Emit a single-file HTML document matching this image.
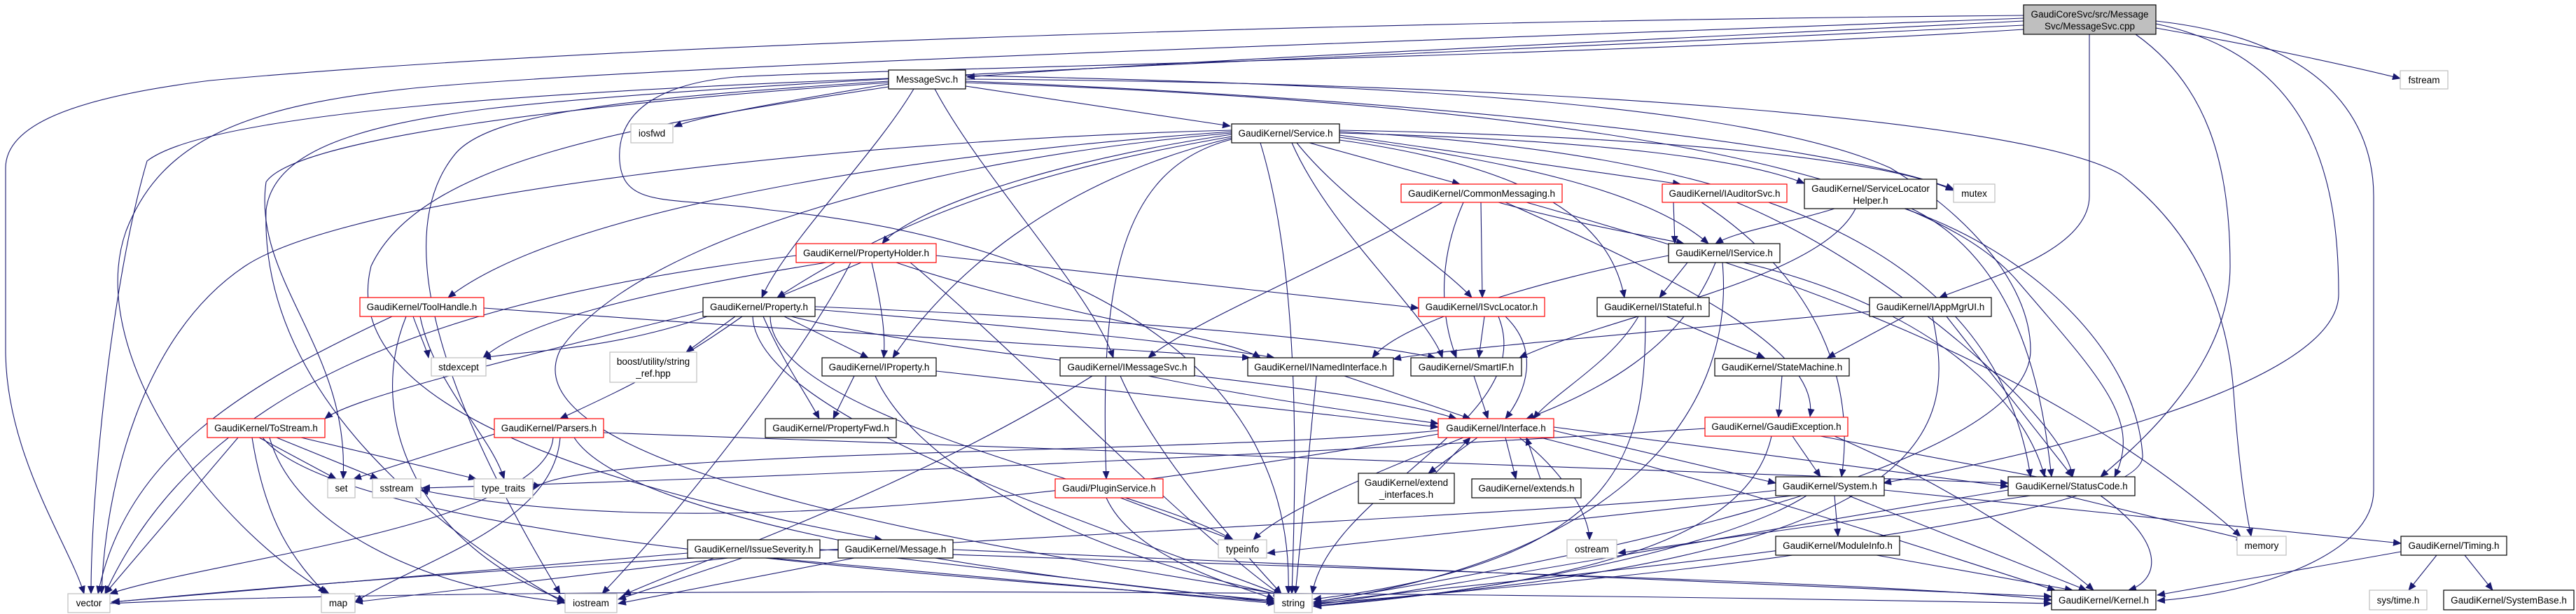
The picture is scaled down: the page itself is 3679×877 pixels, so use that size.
<!DOCTYPE html>
<html><head><meta charset="utf-8"><style>
html,body{margin:0;padding:0;background:#fff;width:3679px;height:877px;overflow:hidden}
svg{display:block}
text{font-family:"Liberation Sans",sans-serif;font-size:13.5px;fill:#000;text-anchor:middle}
.e{fill:none;stroke:#191970;stroke-width:1.1}
.n{fill:#fff;stroke:#000;stroke-width:1.2}
.r{fill:#fff;stroke:#f00;stroke-width:1.2}
.g{fill:#fff;stroke:#bfbfbf;stroke-width:1.2}
</style></head><body>
<svg width="3679" height="877" viewBox="0 0 3679 877" xmlns="http://www.w3.org/2000/svg">
<defs><marker id="a" markerWidth="12" markerHeight="10" refX="11" refY="5" orient="auto" markerUnits="userSpaceOnUse"><path d="M0,0 L12,5 L0,10 z" fill="#191970"/></marker></defs>
<g class="e" marker-end="url(#a)">
<!-- cpp edges -->
<path d="M2890,30 C2300,60 1700,85 1381,110"/>
<path d="M3079,40 C3250,70 3380,100 3428,112"/>
<path d="M2984,49 L2984,280 C2984,360 2830,400 2770,425"/>
<path d="M3050,49 C3150,120 3185,230 3185,380 C3185,520 3060,630 3000,681"/>
<path d="M3079,34 C3300,80 3340,250 3340,420 C3340,560 2850,660 2690,690"/>
<path d="M3079,30 C3350,60 3390,200 3390,280 L3390,700 C3390,800 3200,850 3081,858"/>
<path d="M2890,22 C2000,30 900,60 300,115 C100,140 8,180 8,240 L8,500 C8,650 100,780 120,848"/>
<path d="M2890,26 C2000,60 1000,90 600,125 C350,150 230,200 180,330 C120,500 300,750 470,848"/>
<path d="M2890,36 C2000,80 1100,110 700,155 C500,180 390,220 380,300 C370,600 700,800 807,862"/>
<path d="M2890,42 C2300,80 1200,100 1050,110 C940,120 880,160 885,230 C890,300 960,280 1100,300 C1500,340 1850,500 1840,848"/>
<!-- MessageSvc.h edges -->
<path d="M1379,123 L1757,180"/>
<path d="M1269,120 C1150,140 1000,165 963,181"/>
<path d="M1379,116 C2000,140 2600,200 2790,270"/>
<path d="M1379,113 C2200,118 2900,170 3030,250 C3120,320 3180,420 3190,560 C3200,700 3212,750 3215,766"/>
<path d="M1379,118 C2300,150 2750,250 2880,400 C3000,540 3060,600 3020,681"/>
<path d="M1305,127 C1250,220 1120,350 1088,425"/>
<path d="M1335,127 C1400,250 1560,420 1590,511"/>
<path d="M1269,112 C800,130 300,160 210,230 C160,400 130,700 130,848"/>
<path d="M1269,116 C900,140 700,160 650,220 C560,330 620,550 800,848"/>
<path d="M1269,118 C800,150 420,200 380,260 C360,400 500,500 490,684"/>
<path d="M1269,124 C900,180 600,230 530,380 C500,500 600,650 1260,771"/>
<path d="M1379,108 C2000,120 2500,150 2700,240 C2800,300 2900,400 2900,500 C2900,700 2000,840 1876,860"/>
<!-- Service.h edges -->
<path d="M1870,204 L2085,263"/>
<path d="M1913,193 L2400,263"/>
<path d="M1913,190 C2300,200 2500,230 2577,262"/>
<path d="M1913,186 C2400,195 2700,230 2790,272"/>
<path d="M1913,196 C2150,230 2350,270 2440,348"/>
<path d="M1852,204 C1920,290 2050,370 2102,425"/>
<path d="M1845,204 C1900,330 2040,450 2060,511"/>
<path d="M1913,200 C2200,240 2300,320 2320,425"/>
<path d="M1759,192 C1500,230 1300,300 1260,348"/>
<path d="M1759,195 C1500,240 1300,300 1110,425"/>
<path d="M1759,197 C1500,260 1350,400 1275,511"/>
<path d="M1759,188 C1300,220 800,300 640,425"/>
<path d="M1759,199 C1600,240 1570,400 1580,684"/>
<path d="M1913,188 C2500,220 2850,350 2900,681"/>
<path d="M1759,186 C1200,200 500,280 350,380 C200,480 150,700 145,848"/>
<path d="M1759,190 C1300,230 900,350 800,500 C700,700 1700,820 1830,850"/>
<path d="M1800,204 C1860,400 1850,700 1845,848"/>
<!-- CommonMessaging -->
<path d="M2060,289 C1900,380 1700,460 1640,511"/>
<path d="M2115,289 L2117,425"/>
<path d="M2090,289 C2050,380 2060,460 2080,511"/>
<path d="M2140,289 C2250,320 2370,340 2405,348"/>
<path d="M2150,289 C2400,400 2600,500 2585,595"/>
<path d="M2180,289 C2500,380 2900,500 3200,766"/>
<!-- IAuditorSvc -->
<path d="M2390,289 L2392,348"/>
<path d="M2430,289 C2600,400 2650,550 2630,681"/>
<path d="M2480,289 C2700,380 2950,600 2960,681"/>
<!-- ServiceLocatorHelper -->
<path d="M2620,298 C2550,320 2480,330 2450,348"/>
<path d="M2650,298 C2600,400 2300,450 2170,511"/>
<path d="M2730,298 C2900,380 2920,600 2930,681"/>
<path d="M2720,298 C2900,360 3050,500 3060,650 C3070,760 2000,840 1876,862"/>
<!-- PropertyHolder -->
<path d="M1230,375 L1110,425"/>
<path d="M1245,375 C1260,440 1265,480 1262,511"/>
<path d="M1337,365 L2026,440"/>
<path d="M1280,375 C1500,450 1750,480 1800,511"/>
<path d="M1180,375 C900,420 750,460 690,511"/>
<path d="M1137,365 C700,420 300,520 150,848"/>
<path d="M1215,375 C1150,500 1000,700 860,848"/>
<path d="M1300,375 C1450,500 1700,760 1830,850"/>
<!-- IService -->
<path d="M2410,375 L2370,425"/>
<path d="M2383,365 C2200,400 2000,460 1960,511"/>
<path d="M2450,375 C2400,500 2280,560 2180,598"/>
<path d="M2490,375 C2800,450 2900,600 2920,681"/>
<path d="M2460,375 C2480,600 2300,800 1876,860"/>
<!-- Property -->
<path d="M1010,452 C870,500 760,500 690,511"/>
<path d="M1050,452 L980,503"/>
<path d="M1120,452 L1240,511"/>
<path d="M1090,452 C1120,520 1150,560 1170,598"/>
<path d="M1060,452 C950,530 880,560 800,598"/>
<path d="M1004,445 C700,520 500,570 464,598"/>
<path d="M1164,442 C1500,470 1700,490 1820,511"/>
<path d="M1164,438 C1700,460 1950,490 2050,511"/>
<path d="M1130,452 C1400,520 1900,540 2080,598"/>
<path d="M1075,452 C1080,600 1600,760 1830,850"/>
<path d="M1100,452 C1100,600 1650,700 1760,771"/>
<!-- ToolHandle -->
<path d="M590,452 C600,480 610,500 612,511"/>
<path d="M600,452 C620,550 700,620 720,684"/>
<path d="M560,452 C350,550 180,650 140,848"/>
<path d="M691,440 C1100,470 1600,500 1785,511"/>
<path d="M580,452 C520,600 600,780 807,858"/>
<!-- ISvcLocator -->
<path d="M2120,452 L2112,511"/>
<path d="M2150,452 C2200,500 2180,560 2150,598"/>
<path d="M2140,452 C2200,600 1900,700 1874,848"/>
<!-- IStateful -->
<path d="M2340,452 C2300,520 2220,560 2190,598"/>
<path d="M2380,452 L2520,511"/>
<path d="M2350,452 C2350,650 2320,800 1876,856"/>
<!-- IAppMgrUI -->
<path d="M2670,445 C2300,480 2050,500 1990,513"/>
<path d="M2720,452 L2610,511"/>
<path d="M2780,452 L2960,681"/>
<path d="M2760,452 C2790,600 2800,800 1876,862"/>
<!-- StateMachine -->
<path d="M2545,537 L2540,596"/>
<!-- IProperty -->
<path d="M1220,537 L1190,598"/>
<path d="M1337,530 L2054,610"/>
<path d="M1250,537 C1300,650 1500,780 1830,850"/>
<!-- IMessageSvc -->
<path d="M1640,537 C1800,570 1950,590 2054,605"/>
<path d="M1600,537 C1650,650 1750,760 1830,848"/>
<path d="M1560,537 C1300,700 1000,800 890,850"/>
<!-- INamed, SmartIF -->
<path d="M1920,537 L2100,598"/>
<path d="M1880,537 L1850,848"/>
<path d="M2105,537 L2125,598"/>
<!-- ToStream -->
<path d="M370,625 L480,684"/>
<path d="M395,625 L540,684"/>
<path d="M430,625 L680,684"/>
<path d="M340,625 L150,848"/>
<path d="M360,625 C380,750 420,800 465,848"/>
<path d="M385,625 C420,750 600,840 807,860"/>
<path d="M375,625 C500,780 1500,830 1820,860"/>
<!-- Parsers -->
<path d="M706,620 L505,684"/>
<path d="M790,625 C780,750 300,800 157,848"/>
<path d="M800,625 C790,750 600,800 507,860"/>
<path d="M820,625 C900,750 1500,830 1820,858"/>
<path d="M862,618 C1800,650 2500,680 2868,690"/>
<!-- Interface -->
<path d="M2110,625 L2040,676"/>
<path d="M2150,625 L2165,684"/>
<path d="M2054,615 C1700,650 800,640 761,700"/>
<path d="M2090,625 C1900,700 1820,740 1790,771"/>
<path d="M2170,625 C2240,680 2270,740 2270,771"/>
<path d="M2219,615 L2536,690"/>
<path d="M2219,610 L2868,695"/>
<path d="M2200,625 C2500,700 2800,800 2935,843"/>
<path d="M2054,620 C1600,700 1000,780 601,700"/>
<!-- extend_if, extends back -->
<path d="M2050,676 L2100,625"/>
<path d="M2200,684 L2180,625"/>
<!-- GaudiException -->
<path d="M2560,623 L2600,681"/>
<path d="M2600,623 L2930,685"/>
<path d="M2620,623 C2800,700 2940,800 2990,843"/>
<path d="M2530,623 C2500,760 2300,830 1876,866"/>
<path d="M2435,612 C2000,640 1200,680 603,697"/>
<!-- System -->
<path d="M2620,708 L2625,766"/>
<path d="M2640,708 L2980,843"/>
<path d="M2691,700 L3429,776"/>
<path d="M2560,708 L1810,790"/>
<path d="M2540,700 C2200,740 1000,780 160,860"/>
<path d="M2580,708 C2450,790 2100,850 1876,866"/>
<!-- StatusCode -->
<path d="M2950,708 L3205,770"/>
<path d="M2900,708 L2311,790"/>
<path d="M3000,708 C3100,780 3080,830 3040,843"/>
<path d="M2868,700 C2500,760 2000,850 1876,864"/>
<!-- ModuleInfo -->
<path d="M2680,793 L2960,843"/>
<path d="M2560,793 C2300,830 2000,850 1876,866"/>
<!-- Timing -->
<path d="M3480,793 L3440,843"/>
<path d="M3520,793 L3560,843"/>
<path d="M3429,788 L3081,850"/>
<!-- IssueSeverity -->
<path d="M982,790 C600,820 300,850 159,860"/>
<path d="M1040,797 L507,860"/>
<path d="M1060,797 L883,856"/>
<path d="M1100,797 L1822,862"/>
<path d="M1171,785 C1800,810 2700,830 2930,857"/>
<!-- Message -->
<path d="M1220,797 L883,862"/>
<path d="M1280,797 L1820,860"/>
<path d="M1361,785 L2930,852"/>
<!-- PluginService -->
<path d="M1600,711 L1760,771"/>
<path d="M1580,711 C1620,800 1780,840 1820,856"/>
<!-- misc -->
<path d="M157,862 C600,840 1800,840 2930,862"/>
</g>
<!-- nodes -->
<rect class="n" x="2890" y="7" width="189" height="42" style="fill:#bfbfbf"/>
<text x="2984.5" y="25">GaudiCoreSvc/src/Message</text><text x="2984.5" y="42">Svc/MessageSvc.cpp</text>
<rect class="g" x="3428" y="101" width="68" height="26"/><text x="3462" y="119">fstream</text>
<rect class="n" x="1269" y="100" width="110" height="27"/><text x="1324" y="118">MessageSvc.h</text>
<rect class="g" x="901" y="177" width="60" height="27"/><text x="931" y="195">iosfwd</text>
<rect class="n" x="1759" y="177" width="154" height="27"/><text x="1836" y="195">GaudiKernel/Service.h</text>
<rect class="r" x="2001" y="263" width="230" height="26"/><text x="2116" y="281">GaudiKernel/CommonMessaging.h</text>
<rect class="r" x="2374" y="263" width="178" height="26"/><text x="2463" y="281">GaudiKernel/IAuditorSvc.h</text>
<rect class="n" x="2577" y="256" width="189" height="42"/><text x="2671.5" y="274">GaudiKernel/ServiceLocator</text><text x="2671.5" y="291">Helper.h</text>
<rect class="g" x="2790" y="263" width="59" height="26"/><text x="2819.5" y="281">mutex</text>
<rect class="r" x="1137" y="348" width="200" height="27"/><text x="1237" y="366">GaudiKernel/PropertyHolder.h</text>
<rect class="n" x="2383" y="348" width="159" height="27"/><text x="2462.5" y="366">GaudiKernel/IService.h</text>
<rect class="r" x="514" y="425" width="177" height="27"/><text x="602.5" y="443">GaudiKernel/ToolHandle.h</text>
<rect class="n" x="1004" y="425" width="160" height="27"/><text x="1084" y="443">GaudiKernel/Property.h</text>
<rect class="r" x="2026" y="425" width="180" height="27"/><text x="2116" y="443">GaudiKernel/ISvcLocator.h</text>
<rect class="n" x="2281" y="425" width="160" height="27"/><text x="2361" y="443">GaudiKernel/IStateful.h</text>
<rect class="n" x="2670" y="425" width="174" height="27"/><text x="2757" y="443">GaudiKernel/IAppMgrUI.h</text>
<rect class="g" x="616" y="511" width="78" height="26"/><text x="655" y="529">stdexcept</text>
<rect class="g" x="871" y="503" width="124" height="43"/><text x="933" y="521">boost/utility/string</text><text x="933" y="538">_ref.hpp</text>
<rect class="n" x="1174" y="511" width="163" height="26"/><text x="1255.5" y="529">GaudiKernel/IProperty.h</text>
<rect class="n" x="1514" y="511" width="192" height="26"/><text x="1610" y="529">GaudiKernel/IMessageSvc.h</text>
<rect class="n" x="1782" y="511" width="208" height="26"/><text x="1886" y="529">GaudiKernel/INamedInterface.h</text>
<rect class="n" x="2015" y="511" width="158" height="26"/><text x="2094" y="529">GaudiKernel/SmartIF.h</text>
<rect class="n" x="2449" y="512" width="192" height="25"/><text x="2545" y="529">GaudiKernel/StateMachine.h</text>
<rect class="r" x="296" y="598" width="168" height="27"/><text x="380" y="616">GaudiKernel/ToStream.h</text>
<rect class="r" x="706" y="598" width="156" height="27"/><text x="784" y="616">GaudiKernel/Parsers.h</text>
<rect class="n" x="1093" y="598" width="187" height="27"/><text x="1186.5" y="616">GaudiKernel/PropertyFwd.h</text>
<rect class="r" x="2054" y="598" width="165" height="27"/><text x="2136.5" y="616">GaudiKernel/Interface.h</text>
<rect class="r" x="2435" y="596" width="204" height="27"/><text x="2537" y="614">GaudiKernel/GaudiException.h</text>
<rect class="g" x="468" y="684" width="39" height="27"/><text x="487.5" y="702">set</text>
<rect class="g" x="532" y="684" width="69" height="27"/><text x="566.5" y="702">sstream</text>
<rect class="g" x="677" y="684" width="84" height="27"/><text x="719" y="702">type_traits</text>
<rect class="r" x="1507" y="684" width="154" height="27"/><text x="1584" y="702">Gaudi/PluginService.h</text>
<rect class="n" x="1940" y="676" width="137" height="43"/><text x="2008.5" y="694">GaudiKernel/extend</text><text x="2008.5" y="711">_interfaces.h</text>
<rect class="n" x="2102" y="684" width="156" height="27"/><text x="2180" y="702">GaudiKernel/extends.h</text>
<rect class="n" x="2536" y="681" width="155" height="27"/><text x="2613.5" y="699">GaudiKernel/System.h</text>
<rect class="n" x="2868" y="681" width="181" height="27"/><text x="2958.5" y="699">GaudiKernel/StatusCode.h</text>
<rect class="n" x="982" y="771" width="189" height="26"/><text x="1076.5" y="789">GaudiKernel/IssueSeverity.h</text>
<rect class="n" x="1197" y="771" width="164" height="26"/><text x="1279" y="789">GaudiKernel/Message.h</text>
<rect class="g" x="1740" y="771" width="69" height="26"/><text x="1774.5" y="789">typeinfo</text>
<rect class="g" x="2238" y="771" width="71" height="26"/><text x="2273.5" y="789">ostream</text>
<rect class="n" x="2536" y="766" width="177" height="27"/><text x="2624.5" y="784">GaudiKernel/ModuleInfo.h</text>
<rect class="g" x="3195" y="766" width="70" height="27"/><text x="3230" y="784">memory</text>
<rect class="n" x="3429" y="766" width="151" height="27"/><text x="3504.5" y="784">GaudiKernel/Timing.h</text>
<rect class="g" x="97" y="848" width="60" height="27"/><text x="127" y="866">vector</text>
<rect class="g" x="459" y="848" width="48" height="27"/><text x="483" y="866">map</text>
<rect class="g" x="807" y="848" width="74" height="27"/><text x="844" y="866">iostream</text>
<rect class="g" x="1820" y="848" width="54" height="27"/><text x="1847" y="866">string</text>
<rect class="n" x="2930" y="843" width="149" height="28"/><text x="3004.5" y="862">GaudiKernel/Kernel.h</text>
<rect class="g" x="3384" y="843" width="82" height="28"/><text x="3425" y="862">sys/time.h</text>
<rect class="n" x="3490" y="843" width="186" height="28"/><text x="3583" y="862">GaudiKernel/SystemBase.h</text>
</svg>
</body></html>
